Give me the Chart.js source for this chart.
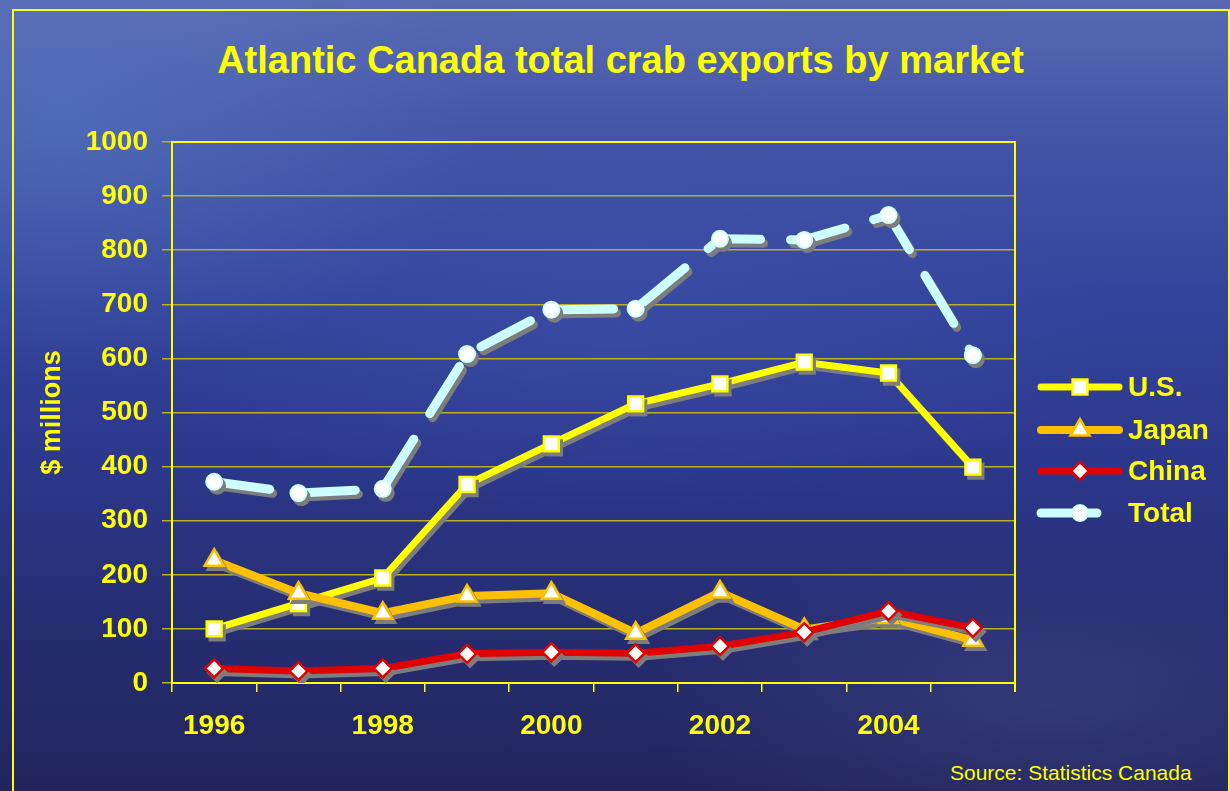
<!DOCTYPE html>
<html>
<head>
<meta charset="utf-8">
<title>Atlantic Canada total crab exports by market</title>
<script src="https://cdn.jsdelivr.net/npm/chart.js@4.4.1/dist/chart.umd.min.js"></script>
<style>
  html, body { margin: 0; padding: 0; }
  body {
    width: 1230px; height: 791px; overflow: hidden; position: relative;
    font-family: "Liberation Sans", Arial, sans-serif;
    background:
      radial-gradient(ellipse 420px 260px at 60px 120px, rgba(90,130,200,0.45), rgba(90,130,200,0) 100%),
      radial-gradient(ellipse 500px 180px at 620px 330px, rgba(70,90,180,0.35), rgba(70,90,180,0) 100%),
      radial-gradient(ellipse 420px 160px at 1050px 700px, rgba(80,85,150,0.35), rgba(80,85,150,0) 100%),
      linear-gradient(180deg, #5869b2 0%, #4556a8 16%, #33439c 38%, #2c388c 58%, #262d72 78%, #22255c 100%);
  }
  #frame {
    position: absolute; left: 12px; top: 9px; width: 1214px; height: 820px;
    border: 2px solid #ffff00;
  }
  #title {
    position: absolute; left: 0; width: 1241px; top: 38px;
    text-align: center; color: #ffff00; font-weight: bold; font-size: 38px; line-height: 44px;
  }
  #source {
    position: absolute; left: 950px; top: 760px;
    color: #ffff00; font-size: 21px; line-height: 26px;
  }
  canvas { position: absolute; left: 0; top: 0; }
</style>
</head>
<body>
<div id="frame"></div>
<div id="title">Atlantic Canada total crab exports by market</div>
<div id="source">Source: Statistics Canada</div>
<canvas id="myChart" width="1230" height="791"></canvas>

<script>
// crab exports, $ millions
let years = ['1996', '1997', '1998', '1999', '2000', '2001', '2002', '2003', '2004', '2005'];
let usValues = [100, 147, 194, 367, 442, 516, 553, 593, 573, 399];
let japanValues = [227, 166, 129, 161, 166, 92, 168, 99, 121, 79];
let chinaValues = [27, 22, 27, 54, 57, 55, 68, 94, 133, 102];
let totalValues = [372, 351, 359, 608, 690, 692, 821, 819, 865, 606];
let yTicks = [0, 100, 200, 300, 400, 500, 600, 700, 800, 900, 1000];

const YELLOW = '#ffff00';
const SHADOW = 'rgb(125,125,125)';
const FONT = '"Liberation Sans", Arial, sans-serif';

// markers: grey copy underneath, then the marker itself with no canvas shadow
// (otherwise the border's shadow lands on the white fill)
let basePointDraw = Chart.PointElement.prototype.draw;
Chart.PointElement.prototype.draw = function(c, area) {
  let o = this.options;
  c.save();
  let shadowOn = c.shadowColor && c.shadowColor !== 'rgba(0, 0, 0, 0)';
  c.shadowColor = 'rgba(0,0,0,0)';
  if (shadowOn) {
    c.fillStyle = SHADOW;
    c.strokeStyle = SHADOW;
    c.lineWidth = o.borderWidth;
    Chart.helpers.drawPoint(c, o, this.x + 3, this.y + 4);
  }
  basePointDraw.call(this, c, area);
  c.restore();
};

// grey drop shadow under the lines
const shadowPlugin = {
  id: 'lineShadow',
  beforeDatasetsDraw(chart) {
    let c = chart.ctx;
    c.save();
    c.shadowColor = SHADOW;
    c.shadowOffsetX = 3;
    c.shadowOffsetY = 4;
    c.shadowBlur = 0;
  },
  afterDatasetsDraw(chart) {
    chart.ctx.restore();
  }
};

// top and right edges of the plot box
const boxPlugin = {
  id: 'plotBox',
  beforeDatasetsDraw(chart) {
    let c = chart.ctx, a = chart.chartArea;
    c.save();
    c.strokeStyle = YELLOW;
    c.lineWidth = 2;
    c.beginPath();
    c.moveTo(a.left, a.top);
    c.lineTo(a.right, a.top);
    c.lineTo(a.right, a.bottom + 9);
    c.stroke();
    c.restore();
  }
};

// legend on the right: line sample, marker, label
const legendPlugin = {
  id: 'sideLegend',
  afterDraw(chart) {
    let c = chart.ctx;
    let rowY = [387, 430, 471, 513];
    chart.data.datasets.forEach(function(ds, i) {
      let y = rowY[i];
      c.save();
      c.strokeStyle = ds.borderColor;
      c.lineWidth = ds.borderWidth;
      c.lineCap = 'round';
      c.setLineDash(ds.borderDash || []);
      c.beginPath();
      c.moveTo(1041, y);
      c.lineTo(1119, y);
      c.stroke();
      c.setLineDash([]);
      c.fillStyle = ds.pointBackgroundColor;
      c.strokeStyle = ds.pointBorderColor;
      c.lineWidth = ds.pointBorderWidth;
      Chart.helpers.drawPoint(c, {
        pointStyle: ds.pointStyle,
        radius: ds.pointRadius,
        borderWidth: ds.pointBorderWidth,
        rotation: 0
      }, 1080, y);
      c.fillStyle = YELLOW;
      c.font = 'bold 28px ' + FONT;
      c.textBaseline = 'middle';
      c.textAlign = 'left';
      c.fillText(ds.label, 1128, y + 1);
      c.restore();
    });
  }
};

function makeSeries(label, data, color, style, radius, width, order) {
  return {
    label: label,
    data: data,
    borderColor: color,
    borderWidth: width,
    pointStyle: style,
    pointRadius: radius,
    pointHoverRadius: radius,
    pointBackgroundColor: '#ffffff',
    pointBorderColor: color,
    pointBorderWidth: 2.5,
    borderJoinStyle: 'miter',
    tension: 0,
    order: order
  };
}

let usSet = makeSeries('U.S.', usValues, '#ffff00', 'rect', 10.5, 7, 3);
let japanSet = makeSeries('Japan', japanValues, '#ffc000', 'triangle', 11, 8, 2);
let chinaSet = makeSeries('China', chinaValues, '#e00000', 'rectRot', 9, 7, 1);
let totalSet = makeSeries('Total', totalValues, '#ccffff', 'circle', 8, 9, 0);
totalSet.borderDash = [56, 30];
totalSet.borderCapStyle = 'round';
totalSet.borderJoinStyle = 'round';
totalSet.pointBorderWidth = 2;

var ctx = document.getElementById('myChart');
var myChart = new Chart(ctx, {
  type: 'line',
  data: {
    labels: years,
    datasets: [usSet, japanSet, chinaSet, totalSet]
  },
  options: {
    responsive: false,
    animation: false,
    layout: { padding: { left: 0, right: 215, top: 142, bottom: 0 } },
    plugins: {
      legend: { display: false },
      title: { display: false },
      tooltip: { enabled: false }
    },
    scales: {
      x: {
        type: 'category',
        offset: true,
        afterFit: function(scale) { scale.height = 108; },
        border: { display: true, color: YELLOW, width: 2 },
        grid: {
          offset: true,
          drawOnChartArea: false,
          drawTicks: true,
          tickLength: 9,
          color: YELLOW,
          lineWidth: 1.5
        },
        ticks: {
          autoSkip: false,
          maxRotation: 0,
          padding: 17,
          color: YELLOW,
          font: { family: FONT, size: 28, weight: 'bold' },
          callback: function(value, index) {
            return index % 2 === 0 ? years[index] : '';
          }
        }
      },
      y: {
        min: 0,
        max: 1000,
        afterFit: function(scale) { scale.width = 172; },
        afterBuildTicks: function(scale) {
          scale.ticks = yTicks.map(function(v) { return { value: v }; });
        },
        border: { display: true, color: YELLOW, width: 2 },
        grid: {
          color: '#bdb020',
          lineWidth: 1.5,
          tickLength: 10
        },
        ticks: {
          padding: 14,
          color: YELLOW,
          font: { family: FONT, size: 28, weight: 'bold' },
          callback: function(value) { return String(value); }
        },
        title: {
          display: true,
          text: '$ millions',
          color: YELLOW,
          font: { family: FONT, size: 27, weight: 'bold' },
          padding: { top: 36, bottom: 0 }
        }
      }
    }
  },
  plugins: [boxPlugin, shadowPlugin, legendPlugin]
});
</script>
</body>
</html>
